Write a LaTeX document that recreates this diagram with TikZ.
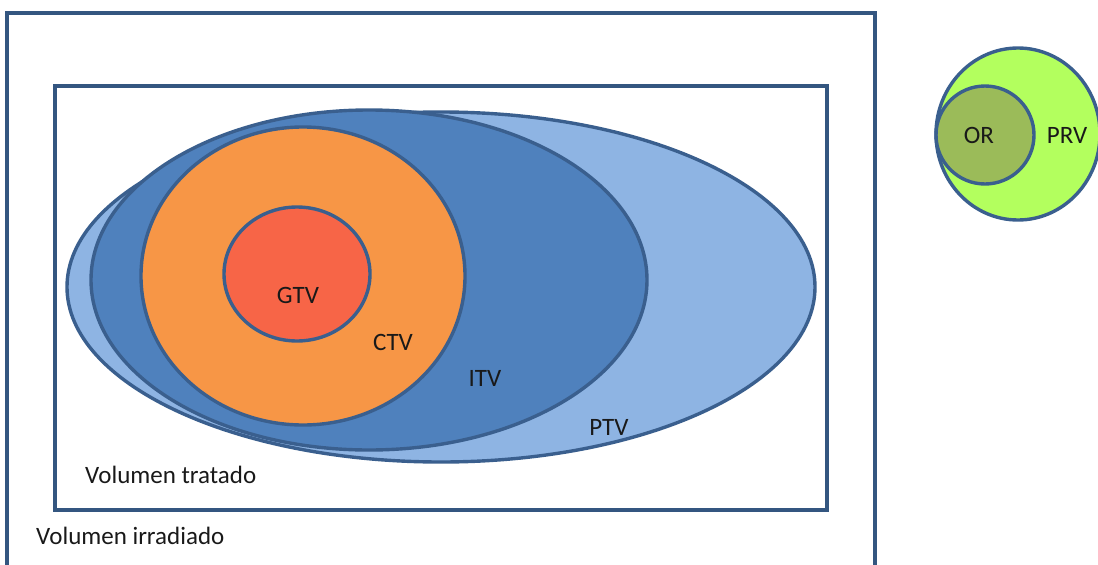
\documentclass[tikz,border=0pt]{standalone}
\usepackage{fontspec}
\setmainfont{Carlito}
\definecolor{edge}{HTML}{3A5F8E}
\definecolor{ptvc}{HTML}{8EB4E3}
\definecolor{itvc}{HTML}{4F81BD}
\definecolor{ctvc}{HTML}{F79646}
\definecolor{gtvc}{HTML}{F76547}
\definecolor{prvc}{HTML}{B3FF5E}
\definecolor{orc}{HTML}{9BBB59}
\begin{document}
\begin{tikzpicture}[x=1pt,y=-1pt,
  vol/.style={draw=edge,line width=3.4pt},
  frame/.style={draw=edge!90!black,line width=3.4pt},
  lbl/.style={font=\fontsize{25}{28}\selectfont,inner sep=0pt,text=black!90}]
\useasboundingbox (0,0) rectangle (1098,565);
\draw[frame] (7,575) -- (7,13) -- (875,13) -- (875,575);
\draw[frame] (55,86) rectangle (827,510);
\filldraw[vol,fill=ptvc] (441,287) ellipse [x radius=374, y radius=175];
\filldraw[vol,fill=itvc] (369,280) ellipse [x radius=278, y radius=170];
\filldraw[vol,fill=ctvc] (303,276) ellipse [x radius=162, y radius=149];
\filldraw[vol,fill=gtvc] (297,274) ellipse [x radius=73, y radius=67];
\begin{scope}
\clip (0,0) rectangle (1098,565);
\filldraw[vol,fill=prvc] (1018,134) ellipse [x radius=82, y radius=86];
\end{scope}
\filldraw[vol,fill=orc] (985,135) ellipse [x radius=49, y radius=49];
\node[lbl] (gtv) at (298,295) {GTV};
\node[lbl] (ctv) at (393,342) {CTV};
\node[lbl] (itv) at (485,378) {ITV};
\node[lbl] (ptv) at (609,427) {PTV};
\node[lbl,anchor=west] (vt) at (85,475) {Volumen tratado};
\node[lbl,anchor=west] (vi) at (36,536) {Volumen irradiado};
\node[lbl] (or) at (979,135) {OR};
\node[lbl] (prv) at (1067,135) {PRV};
\end{tikzpicture}
\end{document}
